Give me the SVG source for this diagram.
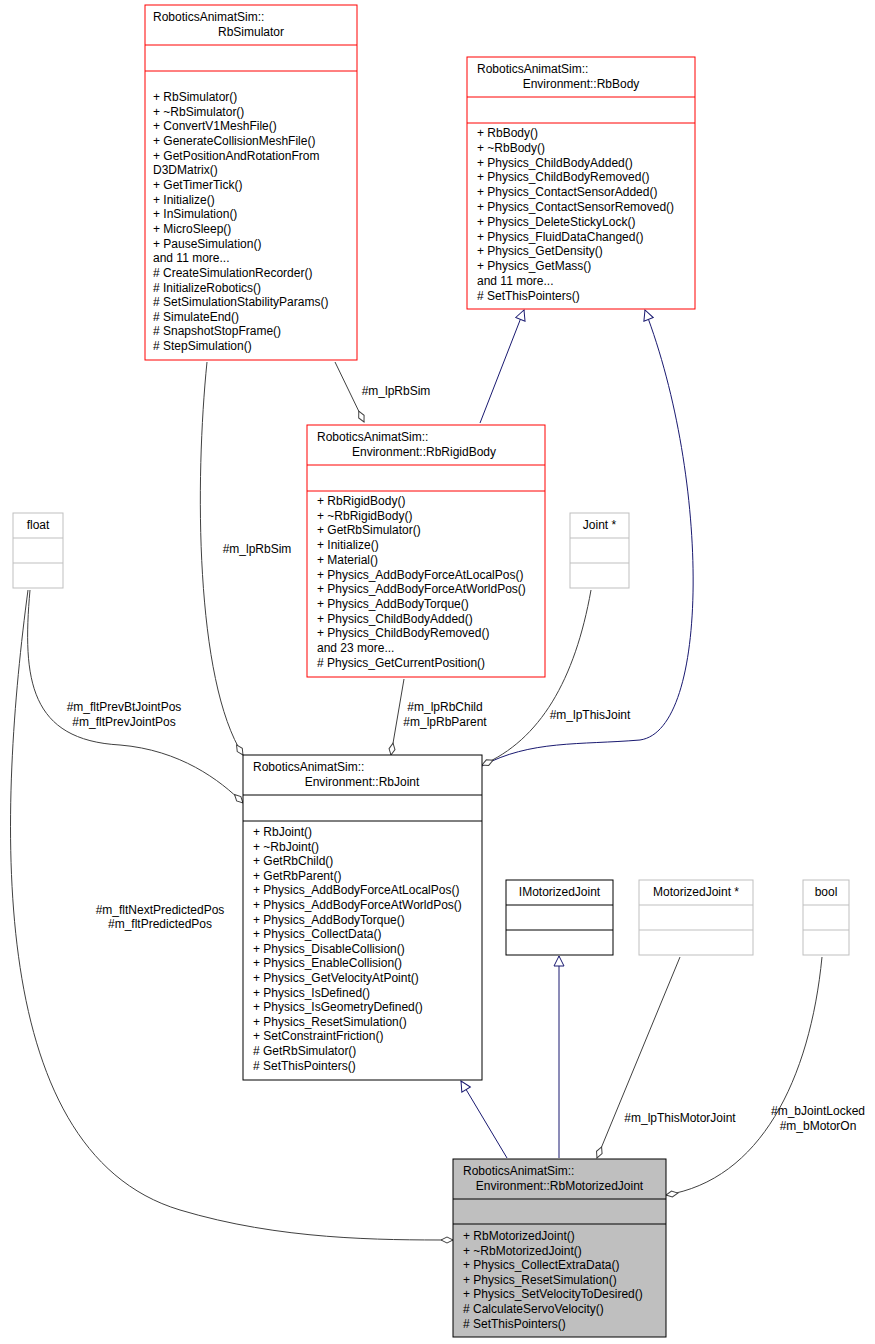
<svg xmlns="http://www.w3.org/2000/svg" width="875" height="1344" viewBox="0 0 875 1344">
<style>
text{font-family:"Liberation Sans",Arial,sans-serif;font-size:12px;fill:#000}
.r{fill:#fff;stroke:#ff0000;stroke-width:1}
.g{fill:#fff;stroke:#bfbfbf;stroke-width:1}
.k{fill:#fff;stroke:#000;stroke-width:1}
.s{fill:#bfbfbf;stroke:#000;stroke-width:1}
.e{fill:none;stroke:#404040;stroke-width:1}
.n{fill:none;stroke:#191970;stroke-width:1}
.m{text-anchor:middle}
</style>
<defs>
<marker id="dia" viewBox="0 0 14 8" refX="13" refY="4" markerWidth="14" markerHeight="8" orient="auto" markerUnits="userSpaceOnUse">
<path d="M1,4 L7,1 L13,4 L7,7 Z" fill="#fff" stroke="#404040"/>
</marker>
<marker id="tri" viewBox="0 0 12 12" refX="11" refY="6" markerWidth="12" markerHeight="12" orient="auto" markerUnits="userSpaceOnUse">
<path d="M1,1 L11,6 L1,11 Z" fill="#fff" stroke="#191970"/>
</marker>
</defs>
<g id="connectors">
<path class="n" d="M480,423 L524,310" marker-end="url(#tri)"/>
<path class="n" d="M482,766 C530,740 580,745 640,740 C710,730 710,480 645,310" marker-end="url(#tri)"/>
<path class="n" d="M507,1158 L461,1081" marker-end="url(#tri)"/>
<path class="n" d="M559,1158 L559,956" marker-end="url(#tri)"/>
<path class="e" d="M335,362 L364,422" marker-end="url(#dia)"/>
<path class="e" d="M207,362 C195,480 195,680 243,755" marker-end="url(#dia)"/>
<path class="e" d="M404,679 L391,755" marker-end="url(#dia)"/>
<path class="e" d="M591,590 C575,680 540,740 482,765" marker-end="url(#dia)"/>
<path class="e" d="M30,590 C22,680 30,740 120,745 C180,750 220,780 243,803" marker-end="url(#dia)"/>
<path class="e" d="M28,590 C0,800 -20,1150 180,1210 C280,1240 380,1240 453,1240" marker-end="url(#dia)"/>
<path class="e" d="M680,957 L597,1158" marker-end="url(#dia)"/>
<path class="e" d="M822,957 C810,1080 760,1180 666,1195" marker-end="url(#dia)"/>
<text x="396" y="395" class="m">#m_lpRbSim</text>
<text x="257" y="553" class="m">#m_lpRbSim</text>
<text x="445" y="711" class="m">#m_lpRbChild</text>
<text x="445" y="726" class="m">#m_lpRbParent</text>
<text x="590" y="719" class="m">#m_lpThisJoint</text>
<text x="124" y="711" class="m">#m_fltPrevBtJointPos</text>
<text x="124" y="726" class="m">#m_fltPrevJointPos</text>
<text x="160" y="914" class="m">#m_fltNextPredictedPos</text>
<text x="160" y="928" class="m">#m_fltPredictedPos</text>
<text x="680" y="1122" class="m">#m_lpThisMotorJoint</text>
<text x="818" y="1115" class="m">#m_bJointLocked</text>
<text x="818" y="1130" class="m">#m_bMotorOn</text>
</g>
<g id="RbSimulator">
<rect class="r" x="145" y="5" width="212" height="355"/>
<line x1="145" y1="45" x2="357" y2="45" stroke="#ff0000"/>
<line x1="145" y1="71" x2="357" y2="71" stroke="#ff0000"/>
<text x="153" y="21">RoboticsAnimatSim::</text>
<text x="251" y="36" class="m">RbSimulator</text>
<text x="153" y="101">+ RbSimulator()</text>
<text x="153" y="115.7">+ ~RbSimulator()</text>
<text x="153" y="130.3">+ ConvertV1MeshFile()</text>
<text x="153" y="145">+ GenerateCollisionMeshFile()</text>
<text x="153" y="159.6">+ GetPositionAndRotationFrom</text>
<text x="153" y="174.3">D3DMatrix()</text>
<text x="153" y="188.9">+ GetTimerTick()</text>
<text x="153" y="203.6">+ Initialize()</text>
<text x="153" y="218.2">+ InSimulation()</text>
<text x="153" y="232.9">+ MicroSleep()</text>
<text x="153" y="247.5">+ PauseSimulation()</text>
<text x="153" y="262.2">and 11 more...</text>
<text x="153" y="276.8"># CreateSimulationRecorder()</text>
<text x="153" y="291.5"># InitializeRobotics()</text>
<text x="153" y="306.1"># SetSimulationStabilityParams()</text>
<text x="153" y="320.8"># SimulateEnd()</text>
<text x="153" y="335.4"># SnapshotStopFrame()</text>
<text x="153" y="350.1"># StepSimulation()</text>
<text x="153" y="364.7" display="none"></text>
</g>
<g id="RbSimulatorLast"><text x="153" y="350" display="none"></text></g>
<g id="RbBody">
<rect class="r" x="467" y="57" width="228" height="252"/>
<line x1="467" y1="97" x2="695" y2="97" stroke="#ff0000"/>
<line x1="467" y1="123" x2="695" y2="123" stroke="#ff0000"/>
<text x="477" y="73">RoboticsAnimatSim::</text>
<text x="581" y="88" class="m">Environment::RbBody</text>
<text x="477" y="137">+ RbBody()</text>
<text x="477" y="151.8">+ ~RbBody()</text>
<text x="477" y="166.6">+ Physics_ChildBodyAdded()</text>
<text x="477" y="181.4">+ Physics_ChildBodyRemoved()</text>
<text x="477" y="196.2">+ Physics_ContactSensorAdded()</text>
<text x="477" y="211">+ Physics_ContactSensorRemoved()</text>
<text x="477" y="225.8">+ Physics_DeleteStickyLock()</text>
<text x="477" y="240.6">+ Physics_FluidDataChanged()</text>
<text x="477" y="255.4">+ Physics_GetDensity()</text>
<text x="477" y="270.2">+ Physics_GetMass()</text>
<text x="477" y="285">and 11 more...</text>
<text x="477" y="299.8"># SetThisPointers()</text>
</g>
<g id="RbRigidBody">
<rect class="r" x="307" y="425" width="238" height="252"/>
<line x1="307" y1="465" x2="545" y2="465" stroke="#ff0000"/>
<line x1="307" y1="491" x2="545" y2="491" stroke="#ff0000"/>
<text x="317" y="441">RoboticsAnimatSim::</text>
<text x="424" y="456" class="m">Environment::RbRigidBody</text>
<text x="317" y="505">+ RbRigidBody()</text>
<text x="317" y="519.7">+ ~RbRigidBody()</text>
<text x="317" y="534.4">+ GetRbSimulator()</text>
<text x="317" y="549.1">+ Initialize()</text>
<text x="317" y="563.8">+ Material()</text>
<text x="317" y="578.5">+ Physics_AddBodyForceAtLocalPos()</text>
<text x="317" y="593.2">+ Physics_AddBodyForceAtWorldPos()</text>
<text x="317" y="607.9">+ Physics_AddBodyTorque()</text>
<text x="317" y="622.6">+ Physics_ChildBodyAdded()</text>
<text x="317" y="637.3">+ Physics_ChildBodyRemoved()</text>
<text x="317" y="652">and 23 more...</text>
<text x="317" y="666.7"># Physics_GetCurrentPosition()</text>
</g>
<g id="float">
<rect class="g" x="13" y="513" width="50" height="75"/>
<line x1="13" y1="538" x2="63" y2="538" stroke="#bfbfbf"/>
<line x1="13" y1="563" x2="63" y2="563" stroke="#bfbfbf"/>
<text x="38" y="529" class="m">float</text>
</g>
<g id="JointPtr">
<rect class="g" x="570" y="513" width="59" height="75"/>
<line x1="570" y1="538" x2="629" y2="538" stroke="#bfbfbf"/>
<line x1="570" y1="563" x2="629" y2="563" stroke="#bfbfbf"/>
<text x="599.5" y="529" class="m">Joint *</text>
</g>
<g id="RbJoint">
<rect class="k" x="243" y="755" width="239" height="325"/>
<line x1="243" y1="795" x2="482" y2="795" stroke="#000"/>
<line x1="243" y1="821" x2="482" y2="821" stroke="#000"/>
<text x="253" y="771">RoboticsAnimatSim::</text>
<text x="362" y="786" class="m">Environment::RbJoint</text>
<text x="253" y="836">+ RbJoint()</text>
<text x="253" y="850.6">+ ~RbJoint()</text>
<text x="253" y="865.2">+ GetRbChild()</text>
<text x="253" y="879.8">+ GetRbParent()</text>
<text x="253" y="894.4">+ Physics_AddBodyForceAtLocalPos()</text>
<text x="253" y="909">+ Physics_AddBodyForceAtWorldPos()</text>
<text x="253" y="923.6">+ Physics_AddBodyTorque()</text>
<text x="253" y="938.2">+ Physics_CollectData()</text>
<text x="253" y="952.8">+ Physics_DisableCollision()</text>
<text x="253" y="967.4">+ Physics_EnableCollision()</text>
<text x="253" y="982">+ Physics_GetVelocityAtPoint()</text>
<text x="253" y="996.6">+ Physics_IsDefined()</text>
<text x="253" y="1011.2">+ Physics_IsGeometryDefined()</text>
<text x="253" y="1025.8">+ Physics_ResetSimulation()</text>
<text x="253" y="1040.4">+ SetConstraintFriction()</text>
<text x="253" y="1055"># GetRbSimulator()</text>
<text x="253" y="1069.6"># SetThisPointers()</text>
</g>
<g id="IMotorizedJoint">
<rect class="k" x="506" y="880" width="107" height="75"/>
<line x1="506" y1="905" x2="613" y2="905" stroke="#000"/>
<line x1="506" y1="930" x2="613" y2="930" stroke="#000"/>
<text x="559.5" y="896" class="m">IMotorizedJoint</text>
</g>
<g id="MotorizedJointPtr">
<rect class="g" x="639" y="880" width="114" height="75"/>
<line x1="639" y1="905" x2="753" y2="905" stroke="#bfbfbf"/>
<line x1="639" y1="930" x2="753" y2="930" stroke="#bfbfbf"/>
<text x="696" y="896" class="m">MotorizedJoint *</text>
</g>
<g id="bool">
<rect class="g" x="803" y="880" width="46" height="75"/>
<line x1="803" y1="905" x2="849" y2="905" stroke="#bfbfbf"/>
<line x1="803" y1="930" x2="849" y2="930" stroke="#bfbfbf"/>
<text x="826" y="896" class="m">bool</text>
</g>
<g id="RbMotorizedJoint">
<rect class="s" x="453" y="1159" width="213" height="178"/>
<line x1="453" y1="1199" x2="666" y2="1199" stroke="#000"/>
<line x1="453" y1="1224" x2="666" y2="1224" stroke="#000"/>
<text x="463" y="1175">RoboticsAnimatSim::</text>
<text x="559.5" y="1190" class="m">Environment::RbMotorizedJoint</text>
<text x="463" y="1240">+ RbMotorizedJoint()</text>
<text x="463" y="1254.6">+ ~RbMotorizedJoint()</text>
<text x="463" y="1269.2">+ Physics_CollectExtraData()</text>
<text x="463" y="1283.8">+ Physics_ResetSimulation()</text>
<text x="463" y="1298.4">+ Physics_SetVelocityToDesired()</text>
<text x="463" y="1313"># CalculateServoVelocity()</text>
<text x="463" y="1327.6"># SetThisPointers()</text>
</g>
</svg>
